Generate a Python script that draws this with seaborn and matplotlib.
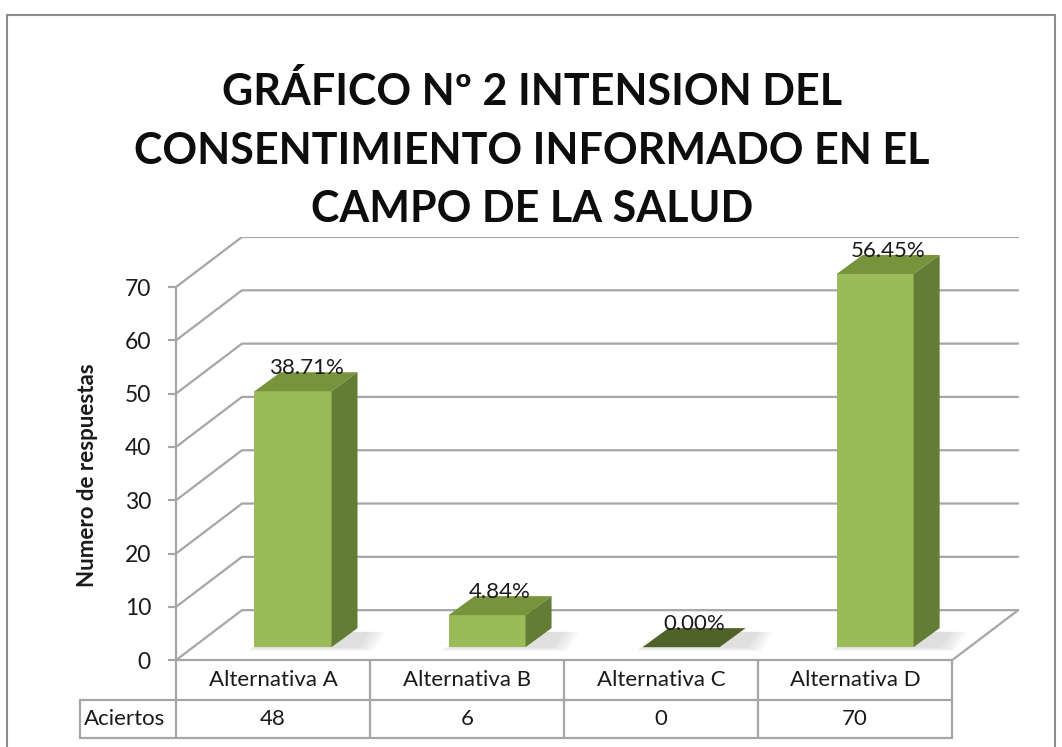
import matplotlib
matplotlib.use("Agg")
import matplotlib.pyplot as plt
from matplotlib.patches import Polygon
from matplotlib.lines import Line2D
import seaborn as sns

# data
categories = ["Alternativa A", "Alternativa B", "Alternativa C", "Alternativa D"]
aciertos = [48, 6, 0, 70]
pct_labels = ["38.71%", "4.84%", "0.00%", "56.45%"]
y_ticks = [0, 10, 20, 30, 40, 50, 60, 70]
row_name = "Aciertos"
title = "GRÁFICO Nº 2 INTENSION DEL\nCONSENTIMIENTO INFORMADO EN EL\nCAMPO DE LA SALUD"
y_label = "Numero de respuestas"

sns.set_theme(style="white")
plt.rcParams["font.family"] = ["Lato", "DejaVu Sans"]

W, H = 1062, 747
fig = plt.figure(figsize=(W / 100, H / 100), dpi=100)

# axes placed in pixels: x from 176 to 1022, y from 738 (table bottom) to 237 (back top)
ax = fig.add_axes([176 / W, 1 - 738 / H, 846 / W, 501 / H])

grid_c = "#A6A6A6"
txt_c = "#1a1a1a"
wall_dx, wall_dy = 0.34, 9.38      # depth of the 3-D box (data units)
bar_ox, bar_oy = 0.103, 2.44       # bar front face offset from the floor front
side_dx, side_dy = 0.134, 3.57     # bar depth

# back wall + left wall gridlines
for v in y_ticks:
    ax.add_line(Line2D([-0.5, -0.5 + wall_dx, 3.5 + wall_dx], [v, v + wall_dy, v + wall_dy],
                       color=grid_c, lw=1.6, zorder=1))
# floor right edge
ax.add_line(Line2D([3.5, 3.5 + wall_dx], [0, wall_dy], color=grid_c, lw=1.6, zorder=1))

# bars
sns.barplot(x=categories, y=aciertos, color="#9BBB59", saturation=1, width=0.397,
            ax=ax, zorder=3)
for i, p in enumerate(ax.patches):
    x0 = p.get_x() + bar_ox
    h = p.get_height()
    w = p.get_width()
    p.set_x(x0)
    p.set_y(bar_oy)
    p.set_linewidth(0)
    y1 = bar_oy + h
    # soft floor shadow
    for k in range(5):
        e = 0.08 - k * 0.018
        ax.add_patch(Polygon([(x0 - e / 2, bar_oy - 0.7 + k * 0.15),
                              (x0 + w + side_dx + e, bar_oy - 0.7 + k * 0.15),
                              (x0 + w + side_dx + 0.06 + e, bar_oy + side_dy * 0.8),
                              (x0 + side_dx, bar_oy + side_dy * 0.8)],
                             closed=True, fc="#8C8C8C", ec="none", alpha=0.06, zorder=2))
    top_c = "#77933C" if h > 0 else "#4F6228"
    ax.add_patch(Polygon([(x0, y1), (x0 + w, y1), (x0 + w + side_dx, y1 + side_dy),
                          (x0 + side_dx, y1 + side_dy)], closed=True, fc=top_c, ec="none", zorder=4))
    if h > 0:
        ax.add_patch(Polygon([(x0 + w, bar_oy), (x0 + w + side_dx, bar_oy + side_dy),
                              (x0 + w + side_dx, y1 + side_dy), (x0 + w, y1)],
                             closed=True, fc="#647D35", ec="none", zorder=4))
    ax.text(x0 + w / 2 + side_dx / 2, y1 + side_dy - 0.3, pct_labels[i], ha="center",
            va="baseline", fontsize=16, color=txt_c, zorder=5)

ax.set_xlim(-0.5, 3.86)
ax.set_ylim(-14.6, 79.38)

# data table under the axis
r1, r2 = -7.5, -14.6
left_cell = -0.995
tkw = dict(color=grid_c, lw=1.6, zorder=2, clip_on=False)
ax.add_line(Line2D([-0.5, 3.5], [0, 0], **tkw))
ax.add_line(Line2D([left_cell, 3.5], [r1, r1], **tkw))
ax.add_line(Line2D([left_cell, 3.5], [r2, r2], **tkw))
ax.add_line(Line2D([left_cell, left_cell], [r1, r2], **tkw))
for xb in [-0.5, 0.5, 1.5, 2.5, 3.5]:
    ax.add_line(Line2D([xb, xb], [0, r2], **tkw))
for i, (c, v) in enumerate(zip(categories, aciertos)):
    ax.text(i, r1 / 2, c, ha="center", va="center", fontsize=16, color=txt_c)
    ax.text(i, (r1 + r2) / 2, str(v), ha="center", va="center", fontsize=16, color=txt_c)
ax.text(left_cell + 0.022, (r1 + r2) / 2, row_name, ha="left", va="center", fontsize=16,
        color=txt_c, clip_on=False)

# y axis on the front
for s in ["top", "right", "bottom"]:
    ax.spines[s].set_visible(False)
ax.spines["left"].set_bounds(0, 70)
ax.spines["left"].set_color(grid_c)
ax.spines["left"].set_linewidth(1.6)
ax.set_yticks(y_ticks)
ax.set_yticklabels([str(t) for t in y_ticks], fontsize=16.5, color=txt_c)
ax.tick_params(axis="y", direction="out", length=6, width=1.6, color=grid_c, pad=12, left=True)
ax.set_xticks([])
ax.set_xlabel("")
ax.set_ylabel("")
ax.patch.set_alpha(0)

fig.text(87 / W, 1 - 475 / H, y_label, rotation=90, ha="center", va="center",
         fontsize=16, fontweight="bold", color=txt_c)
fig.text(532 / W, 1 - 150 / H, title, ha="center", va="center", fontsize=31,
         fontweight="bold", color="#0d0d0d", linespacing=1.55)

# outer chart border
for xs, ys in [([7, 7], [15, 760]), ([7, 1055], [15, 15]), ([1055, 1055], [15, 760])]:
    fig.add_artist(Line2D([x / W for x in xs], [1 - y / H for y in ys],
                          transform=fig.transFigure, color="#8C8C8C", lw=1.5))

fig.savefig("out.png", dpi=100)
